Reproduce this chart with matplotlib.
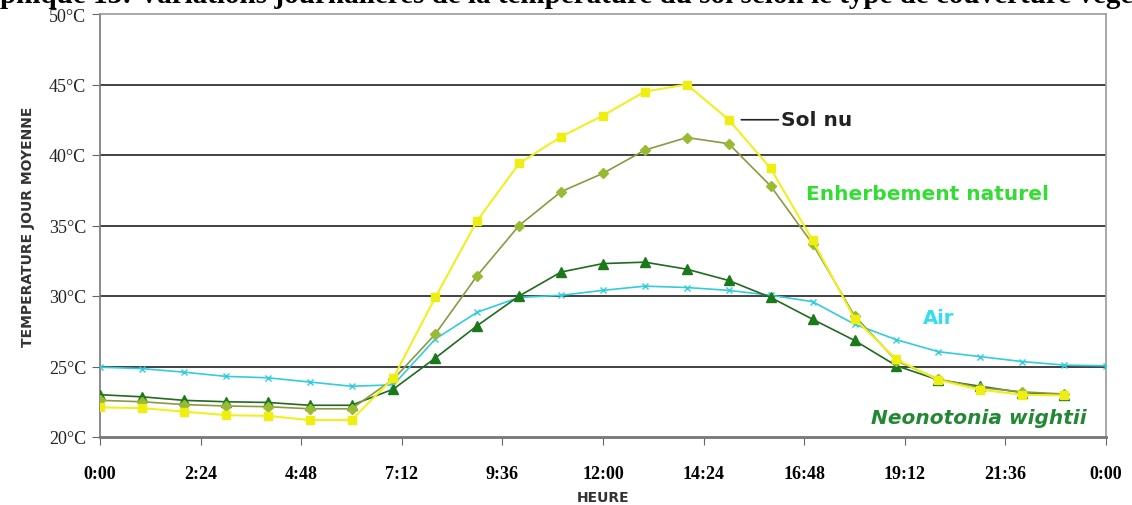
import matplotlib.pyplot as plt

# heures de mesure (0 a 23 pour le sol, 0 a 24 pour l'air)
heures_sol = list(range(24))
heures_air = list(range(25))

sol_nu = [22.1, 22.05, 21.8, 21.55, 21.5, 21.2, 21.2, 24.2, 29.9, 35.35, 39.4, 41.3,
          42.8, 44.5, 45.0, 42.5, 39.05, 33.95, 28.4, 25.5, 24.05, 23.35, 23.0, 22.95]
enherbement = [22.6, 22.5, 22.3, 22.2, 22.15, 22.0, 22.0, 24.1, 27.3, 31.45, 35.0, 37.4,
               38.7, 40.35, 41.24, 40.8, 37.8, 33.7, 28.6, 25.4, 24.1, 23.5, 23.2, 23.05]
neonotonia = [23.0, 22.85, 22.6, 22.5, 22.45, 22.25, 22.25, 23.4, 25.6, 27.9, 30.0, 31.7,
              32.3, 32.4, 31.9, 31.1, 29.9, 28.35, 26.85, 25.05, 24.05, 23.6, 23.15, 23.0]
air = [24.95, 24.85, 24.6, 24.3, 24.2, 23.9, 23.6, 23.7, 26.95, 28.85, 29.9, 30.05,
       30.4, 30.7, 30.6, 30.4, 30.05, 29.6, 28.0, 26.9, 26.05, 25.7, 25.35, 25.1, 25.05]

xticks = [0, 2.4, 4.8, 7.2, 9.6, 12, 14.4, 16.8, 19.2, 21.6, 24]
xlabels = ["0:00", "2:24", "4:48", "7:12", "9:36", "12:00", "14:24", "16:48", "19:12", "21:36", "0:00"]
yticks = [20, 25, 30, 35, 40, 45, 50]
ylabels = ["20°C", "25°C", "30°C", "35°C", "40°C", "45°C", "50°C"]

fig = plt.figure(figsize=(11.32, 5.06), dpi=100)
ax = fig.add_axes([100 / 1132, 68 / 506, 1006 / 1132, 423 / 506])

for y in [25, 30, 35, 40, 45]:
    ax.axhline(y, color="#333333", lw=1.3, zorder=1)

ax.plot(heures_air, air, color="#33ccdd", lw=1.2, marker="x", ms=4, mew=1, zorder=3)
ax.plot(heures_sol, neonotonia, color="#1f6b1f", lw=1.2, marker="^", ms=7,
        mfc="#1a7a1a", mec="#1a7a1a", zorder=4)
ax.plot(heures_sol, enherbement, color="#8a9a40", lw=1.2, marker="D", ms=5,
        mfc="#99bb33", mec="#99bb33", zorder=5)
ax.plot(heures_sol, sol_nu, color="#f0f020", lw=1.5, marker="s", ms=6,
        mfc="#eeee11", mec="#eeee11", zorder=6)

ax.set_xlim(0, 24)
ax.set_ylim(20, 50)
ax.set_xticks(xticks)
ax.set_xticklabels(xlabels, family="Liberation Serif", fontweight="bold", fontsize=13)
ax.set_yticks(yticks)
ax.set_yticklabels(ylabels, family="Liberation Serif", fontsize=13, color="#222222")
ax.tick_params(axis="both", direction="out", length=6, color="#666666")
ax.tick_params(axis="y", pad=4)
ax.tick_params(axis="x", pad=14)
for s in ax.spines.values():
    s.set_color("#999999")
    s.set_linewidth(1.2)
ax.spines["left"].set_color("#777777")
ax.spines["bottom"].set_color("#777777")
ax.spines["bottom"].set_linewidth(2)

ax.set_xlabel("HEURE", family="DejaVu Sans", fontweight="bold", fontsize=10, color="#333333", labelpad=6)
ax.set_ylabel("TEMPERATURE JOUR MOYENNE", family="DejaVu Sans", fontweight="bold",
              fontsize=10, color="#333333", labelpad=10)

# etiquettes des courbes
ax.annotate("Sol nu", xy=(15.3, 42.5), xytext=(16.25, 42.5), fontsize=14.5, fontweight="bold",
            color="#222222", va="center", family="DejaVu Sans",
            arrowprops=dict(arrowstyle="-", color="#222222", lw=1.2, shrinkA=0, shrinkB=0))
ax.text(16.85, 37.3, "Enherbement naturel", fontsize=14.5, fontweight="bold", color="#33dd33",
        va="center", family="DejaVu Sans")
ax.text(20.0, 28.5, "Air", fontsize=14, fontweight="bold", color="#33ddee",
        va="center", ha="center", family="DejaVu Sans")
ax.text(18.4, 21.4, "Neonotonia wightii", fontsize=14.5, fontweight="bold", style="italic",
        color="#228833", va="center", family="DejaVu Sans")

fig.text(0.0, 1.008, "phique 13: Variations journalières de la température du sol selon le type de couverture végé",
         family="Liberation Serif", fontweight="bold", fontsize=21, va="center", ha="left")

fig.savefig("out.png", dpi=100)
